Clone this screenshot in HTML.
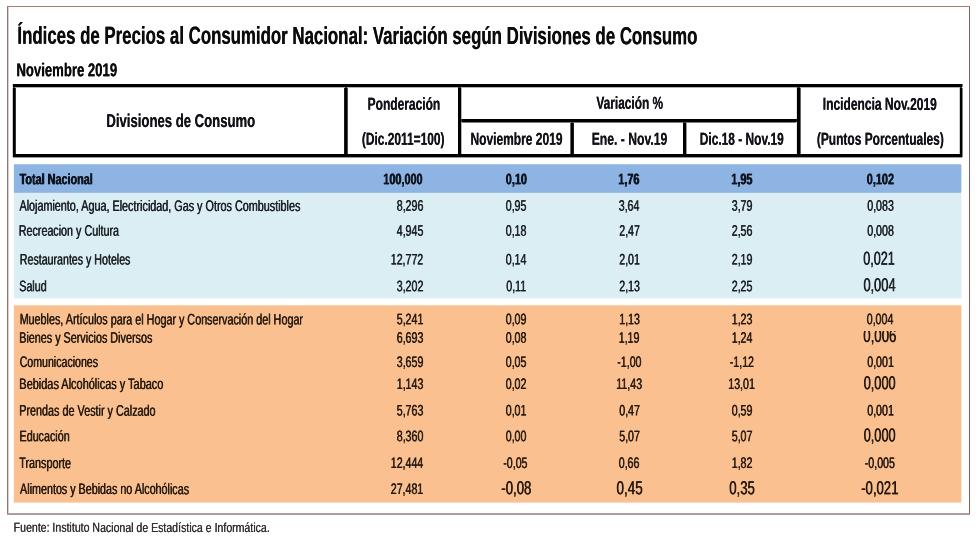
<!DOCTYPE html>
<html lang="es">
<head>
<meta charset="utf-8">
<title>Índices de Precios al Consumidor Nacional</title>
<style>
html,body{margin:0;padding:0;background:#fff;}
body{width:980px;height:546px;position:relative;overflow:hidden;font-family:"Liberation Sans",sans-serif;}
#txt{position:absolute;left:0;top:0;width:980px;height:546px;will-change:transform;}
.t{position:absolute;left:0;top:0;white-space:nowrap;transform-origin:0 0;}
.t::after{content:var(--t);position:absolute;left:var(--d);top:0;white-space:nowrap;}
.r{position:absolute;}
.k{position:absolute;background:#000;}
</style>
</head>
<body>
<div class="r" style="left:14px;top:165px;width:947px;height:27px;background:#8db4e2;"></div>
<div class="r" style="left:14px;top:164px;width:947px;height:1px;background:#8db4e2;opacity:0.80;"></div>
<div class="r" style="left:14px;top:192px;width:947px;height:1px;background:#8db4e2;opacity:0.90;"></div>
<div class="r" style="left:13px;top:165px;width:1px;height:27px;background:#8db4e2;opacity:0.10;"></div>
<div class="r" style="left:961px;top:165px;width:1px;height:27px;background:#8db4e2;opacity:0.40;"></div>
<div class="r" style="left:14px;top:193px;width:947px;height:105px;background:#daeef3;"></div>
<div class="r" style="left:14px;top:192px;width:947px;height:1px;background:#daeef3;opacity:0.10;"></div>
<div class="r" style="left:14px;top:298px;width:947px;height:1px;background:#daeef3;opacity:0.30;"></div>
<div class="r" style="left:13px;top:193px;width:1px;height:105px;background:#daeef3;opacity:0.10;"></div>
<div class="r" style="left:961px;top:193px;width:1px;height:105px;background:#daeef3;opacity:0.40;"></div>
<div class="r" style="left:14px;top:306px;width:947px;height:196px;background:#fac090;"></div>
<div class="r" style="left:14px;top:305px;width:947px;height:1px;background:#fac090;opacity:0.70;"></div>
<div class="r" style="left:14px;top:502px;width:947px;height:1px;background:#fac090;opacity:0.60;"></div>
<div class="r" style="left:13px;top:306px;width:1px;height:196px;background:#fac090;opacity:0.10;"></div>
<div class="r" style="left:961px;top:306px;width:1px;height:196px;background:#fac090;opacity:0.40;"></div>
<div class="r" style="left:13px;top:84px;width:949px;height:3px;background:#000;"></div>
<div class="r" style="left:13px;top:87px;width:949px;height:1px;background:#000;opacity:0.30;"></div>
<div class="r" style="left:12px;top:84px;width:1px;height:3px;background:#000;opacity:0.20;"></div>
<div class="r" style="left:962px;top:84px;width:1px;height:3px;background:#000;opacity:0.50;"></div>
<div class="r" style="left:13px;top:154px;width:949px;height:3px;background:#000;"></div>
<div class="r" style="left:13px;top:157px;width:949px;height:1px;background:#000;opacity:0.40;"></div>
<div class="r" style="left:12px;top:154px;width:1px;height:3px;background:#000;opacity:0.20;"></div>
<div class="r" style="left:962px;top:154px;width:1px;height:3px;background:#000;opacity:0.50;"></div>
<div class="r" style="left:13px;top:88px;width:2px;height:66px;background:#000;"></div>
<div class="r" style="left:13px;top:87px;width:2px;height:1px;background:#000;opacity:0.70;"></div>
<div class="r" style="left:12px;top:88px;width:1px;height:66px;background:#000;opacity:0.20;"></div>
<div class="r" style="left:15px;top:88px;width:1px;height:66px;background:#000;opacity:0.80;"></div>
<div class="r" style="left:960px;top:88px;width:2px;height:66px;background:#000;"></div>
<div class="r" style="left:960px;top:87px;width:2px;height:1px;background:#000;opacity:0.70;"></div>
<div class="r" style="left:959px;top:88px;width:1px;height:66px;background:#000;opacity:0.20;"></div>
<div class="r" style="left:962px;top:88px;width:1px;height:66px;background:#000;opacity:0.50;"></div>
<div class="r" style="left:345px;top:88px;width:2px;height:66px;background:#000;"></div>
<div class="r" style="left:345px;top:87px;width:2px;height:1px;background:#000;opacity:0.70;"></div>
<div class="r" style="left:344px;top:88px;width:1px;height:66px;background:#000;opacity:0.90;"></div>
<div class="r" style="left:347px;top:88px;width:1px;height:66px;background:#000;opacity:0.70;"></div>
<div class="r" style="left:458px;top:88px;width:3px;height:66px;background:#000;"></div>
<div class="r" style="left:458px;top:87px;width:3px;height:1px;background:#000;opacity:0.70;"></div>
<div class="r" style="left:461px;top:88px;width:1px;height:66px;background:#000;opacity:0.30;"></div>
<div class="r" style="left:797px;top:88px;width:3px;height:66px;background:#000;"></div>
<div class="r" style="left:797px;top:87px;width:3px;height:1px;background:#000;opacity:0.70;"></div>
<div class="r" style="left:796px;top:88px;width:1px;height:66px;background:#000;opacity:0.10;"></div>
<div class="r" style="left:800px;top:88px;width:1px;height:66px;background:#000;opacity:0.60;"></div>
<div class="r" style="left:462px;top:119px;width:334px;height:3px;background:#000;"></div>
<div class="r" style="left:462px;top:122px;width:334px;height:1px;background:#000;opacity:0.50;"></div>
<div class="r" style="left:461px;top:119px;width:1px;height:3px;background:#000;opacity:0.70;"></div>
<div class="r" style="left:796px;top:119px;width:1px;height:3px;background:#000;opacity:0.90;"></div>
<div class="r" style="left:571px;top:123px;width:2px;height:31px;background:#000;"></div>
<div class="r" style="left:571px;top:122px;width:2px;height:1px;background:#000;opacity:0.50;"></div>
<div class="r" style="left:570px;top:123px;width:1px;height:31px;background:#000;opacity:0.60;"></div>
<div class="r" style="left:573px;top:123px;width:1px;height:31px;background:#000;opacity:0.90;"></div>
<div class="r" style="left:683px;top:123px;width:3px;height:31px;background:#000;"></div>
<div class="r" style="left:683px;top:122px;width:3px;height:1px;background:#000;opacity:0.50;"></div>
<div class="r" style="left:686px;top:123px;width:1px;height:31px;background:#000;opacity:0.40;"></div>
<div class="r" style="left:7px;top:6px;width:963px;height:1px;background:#b07a76;"></div>
<div class="r" style="left:7px;top:7px;width:1px;height:506px;background:#937674;"></div>
<div class="r" style="left:7px;top:513px;width:1px;height:1px;background:#937674;opacity:0.40;"></div>
<div class="r" style="left:8px;top:7px;width:1px;height:506px;background:#937674;opacity:0.35;"></div>
<div class="r" style="left:969px;top:7px;width:1px;height:506px;background:#875c5a;"></div>
<div class="r" style="left:969px;top:513px;width:1px;height:1px;background:#875c5a;opacity:0.40;"></div>
<div class="r" style="left:7px;top:513px;width:963px;height:1px;background:#7e6060;opacity:0.60;"></div>
<div class="r" style="left:7px;top:514px;width:963px;height:1px;background:#7e6060;opacity:0.65;"></div>
<div id="txt">
<span class="t" style="font-size:24.6px;line-height:27px;color:#0c0c0c;transform:translate(17.30px,21.65px) rotate(0.05deg) scaleX(0.6844);font-weight:bold;--t:'Índices de Precios al Consumidor Nacional: Variación según Divisiones de Consumo';--d:0.365px">Índices de Precios al Consumidor Nacional: Variación según Divisiones de Consumo</span>
<span class="t" style="font-size:18.7px;line-height:21px;color:#0c0c0c;transform:translate(16.35px,59.25px) rotate(0.05deg) scaleX(0.7019);font-weight:bold;--t:'Noviembre 2019';--d:0.427px">Noviembre 2019</span>
<span class="t" style="font-size:18.5px;line-height:21px;color:#12121a;transform:translate(106.35px,109.90px) rotate(0.05deg) scaleX(0.7096);font-weight:bold;--t:'Divisiones de Consumo';--d:0.169px">Divisiones de Consumo</span>
<span class="t" style="font-size:17.3px;line-height:20px;color:#12121a;transform:translate(367.60px,93.80px) rotate(0.05deg) scaleX(0.6935);font-weight:bold;--t:'Ponderación';--d:0.173px">Ponderación</span>
<span class="t" style="font-size:17.3px;line-height:20px;color:#12121a;transform:translate(361.80px,128.70px) rotate(0.05deg) scaleX(0.6907);font-weight:bold;--t:'(Dic.2011=100)';--d:0.174px">(Dic.2011=100)</span>
<span class="t" style="font-size:17.3px;line-height:20px;color:#12121a;transform:translate(596.35px,92.80px) rotate(0.05deg) scaleX(0.6872);font-weight:bold;--t:'Variación %';--d:0.175px">Variación %</span>
<span class="t" style="font-size:17.3px;line-height:20px;color:#12121a;transform:translate(470.40px,128.70px) rotate(0.05deg) scaleX(0.6945);font-weight:bold;--t:'Noviembre 2019';--d:0.173px">Noviembre 2019</span>
<span class="t" style="font-size:17.3px;line-height:20px;color:#12121a;transform:translate(591.65px,128.70px) rotate(0.05deg) scaleX(0.7046);font-weight:bold;--t:'Ene. - Nov.19';--d:0.170px">Ene. - Nov.19</span>
<span class="t" style="font-size:17.3px;line-height:20px;color:#12121a;transform:translate(699.75px,128.70px) rotate(0.05deg) scaleX(0.6904);font-weight:bold;--t:'Dic.18 - Nov.19';--d:0.174px">Dic.18 - Nov.19</span>
<span class="t" style="font-size:17.3px;line-height:20px;color:#12121a;transform:translate(822.75px,93.80px) rotate(0.05deg) scaleX(0.6957);font-weight:bold;--t:'Incidencia Nov.2019';--d:0.172px">Incidencia Nov.2019</span>
<span class="t" style="font-size:17.3px;line-height:20px;color:#12121a;transform:translate(816.80px,128.70px) rotate(0.05deg) scaleX(0.6923);font-weight:bold;--t:'(Puntos Porcentuales)';--d:0.173px">(Puntos Porcentuales)</span>
<span class="t" style="font-size:15.3px;line-height:17px;color:#0e1420;transform:translate(19.30px,170.20px) rotate(0.05deg) scaleX(0.7072);font-weight:bold;--t:'Total Nacional';--d:0.848px">Total Nacional</span>
<span class="t" style="font-size:15.3px;line-height:17px;color:#0e1420;transform:translate(383.00px,170.20px) rotate(0.05deg) scaleX(0.7110);font-weight:bold;--t:'100,000';--d:0.844px">100,000</span>
<span class="t" style="font-size:15.3px;line-height:17px;color:#0e1420;transform:translate(505.50px,170.20px) rotate(0.05deg) scaleX(0.7110);font-weight:bold;--t:'0,10';--d:0.844px">0,10</span>
<span class="t" style="font-size:15.3px;line-height:17px;color:#0e1420;transform:translate(618.00px,170.20px) rotate(0.05deg) scaleX(0.7110);font-weight:bold;--t:'1,76';--d:0.844px">1,76</span>
<span class="t" style="font-size:15.3px;line-height:17px;color:#0e1420;transform:translate(731.00px,170.20px) rotate(0.05deg) scaleX(0.7110);font-weight:bold;--t:'1,95';--d:0.844px">1,95</span>
<span class="t" style="font-size:15.3px;line-height:17px;color:#0e1420;transform:translate(866.50px,170.20px) rotate(0.05deg) scaleX(0.7110);font-weight:bold;--t:'0,102';--d:0.844px">0,102</span>
<span class="t" style="font-size:15.3px;line-height:17px;color:#1a1e22;transform:translate(19.20px,196.80px) rotate(0.05deg) scaleX(0.7060);--t:'Alojamiento, Agua, Electricidad, Gas y Otros Combustibles';--d:0.708px">Alojamiento, Agua, Electricidad, Gas y Otros Combustibles</span>
<span class="t" style="font-size:15.3px;line-height:17px;color:#1a1e22;transform:translate(396.50px,196.80px) rotate(0.05deg) scaleX(0.6950);--t:'8,296';--d:0.719px">8,296</span>
<span class="t" style="font-size:15.3px;line-height:17px;color:#1a1e22;transform:translate(505.50px,196.80px) rotate(0.05deg) scaleX(0.6950);--t:'0,95';--d:0.719px">0,95</span>
<span class="t" style="font-size:15.3px;line-height:17px;color:#1a1e22;transform:translate(618.50px,196.80px) rotate(0.05deg) scaleX(0.6950);--t:'3,64';--d:0.719px">3,64</span>
<span class="t" style="font-size:15.3px;line-height:17px;color:#1a1e22;transform:translate(731.50px,196.80px) rotate(0.05deg) scaleX(0.6950);--t:'3,79';--d:0.719px">3,79</span>
<span class="t" style="font-size:15.3px;line-height:17px;color:#1a1e22;transform:translate(867.00px,196.80px) rotate(0.05deg) scaleX(0.6950);--t:'0,083';--d:0.719px">0,083</span>
<span class="t" style="font-size:15.3px;line-height:17px;color:#1a1e22;transform:translate(18.50px,221.70px) rotate(0.05deg) scaleX(0.7021);--t:'Recreacion y Cultura';--d:0.712px">Recreacion y Cultura</span>
<span class="t" style="font-size:15.3px;line-height:17px;color:#1a1e22;transform:translate(396.50px,221.70px) rotate(0.05deg) scaleX(0.6950);--t:'4,945';--d:0.719px">4,945</span>
<span class="t" style="font-size:15.3px;line-height:17px;color:#1a1e22;transform:translate(505.50px,221.70px) rotate(0.05deg) scaleX(0.6950);--t:'0,18';--d:0.719px">0,18</span>
<span class="t" style="font-size:15.3px;line-height:17px;color:#1a1e22;transform:translate(619.00px,221.70px) rotate(0.05deg) scaleX(0.6950);--t:'2,47';--d:0.719px">2,47</span>
<span class="t" style="font-size:15.3px;line-height:17px;color:#1a1e22;transform:translate(731.50px,221.70px) rotate(0.05deg) scaleX(0.6950);--t:'2,56';--d:0.719px">2,56</span>
<span class="t" style="font-size:15.3px;line-height:17px;color:#1a1e22;transform:translate(867.00px,221.70px) rotate(0.05deg) scaleX(0.6950);--t:'0,008';--d:0.719px">0,008</span>
<span class="t" style="font-size:15.3px;line-height:17px;color:#1a1e22;transform:translate(19.55px,250.40px) rotate(0.05deg) scaleX(0.6958);--t:'Restaurantes y Hoteles';--d:0.719px">Restaurantes y Hoteles</span>
<span class="t" style="font-size:15.3px;line-height:17px;color:#1a1e22;transform:translate(390.50px,250.40px) rotate(0.05deg) scaleX(0.6950);--t:'12,772';--d:0.719px">12,772</span>
<span class="t" style="font-size:15.3px;line-height:17px;color:#1a1e22;transform:translate(505.50px,250.40px) rotate(0.05deg) scaleX(0.6950);--t:'0,14';--d:0.719px">0,14</span>
<span class="t" style="font-size:15.3px;line-height:17px;color:#1a1e22;transform:translate(619.00px,250.40px) rotate(0.05deg) scaleX(0.6950);--t:'2,01';--d:0.719px">2,01</span>
<span class="t" style="font-size:15.3px;line-height:17px;color:#1a1e22;transform:translate(731.50px,250.40px) rotate(0.05deg) scaleX(0.6950);--t:'2,19';--d:0.719px">2,19</span>
<span class="t" style="font-size:15.3px;line-height:17px;color:#1a1e22;transform:translate(19.05px,277.30px) rotate(0.05deg) scaleX(0.6979);--t:'Salud';--d:0.716px">Salud</span>
<span class="t" style="font-size:15.3px;line-height:17px;color:#1a1e22;transform:translate(396.50px,277.30px) rotate(0.05deg) scaleX(0.6950);--t:'3,202';--d:0.719px">3,202</span>
<span class="t" style="font-size:15.3px;line-height:17px;color:#1a1e22;transform:translate(506.00px,277.30px) rotate(0.05deg) scaleX(0.6950);--t:'0,11';--d:0.719px">0,11</span>
<span class="t" style="font-size:15.3px;line-height:17px;color:#1a1e22;transform:translate(619.00px,277.30px) rotate(0.05deg) scaleX(0.6950);--t:'2,13';--d:0.719px">2,13</span>
<span class="t" style="font-size:15.3px;line-height:17px;color:#1a1e22;transform:translate(731.50px,277.30px) rotate(0.05deg) scaleX(0.6950);--t:'2,25';--d:0.719px">2,25</span>
<span class="t" style="font-size:15.3px;line-height:17px;color:#24180f;transform:translate(19.40px,310.30px) rotate(0.05deg) scaleX(0.7045);--t:'Muebles, Artículos para el Hogar y Conservación del Hogar';--d:0.710px">Muebles, Artículos para el Hogar y Conservación del Hogar</span>
<span class="t" style="font-size:15.3px;line-height:17px;color:#24180f;transform:translate(396.50px,310.30px) rotate(0.05deg) scaleX(0.6950);--t:'5,241';--d:0.719px">5,241</span>
<span class="t" style="font-size:15.3px;line-height:17px;color:#24180f;transform:translate(505.50px,310.30px) rotate(0.05deg) scaleX(0.6950);--t:'0,09';--d:0.719px">0,09</span>
<span class="t" style="font-size:15.3px;line-height:17px;color:#24180f;transform:translate(619.00px,310.30px) rotate(0.05deg) scaleX(0.6950);--t:'1,13';--d:0.719px">1,13</span>
<span class="t" style="font-size:15.3px;line-height:17px;color:#24180f;transform:translate(731.50px,310.30px) rotate(0.05deg) scaleX(0.6950);--t:'1,23';--d:0.719px">1,23</span>
<span class="t" style="font-size:15.3px;line-height:17px;color:#24180f;transform:translate(866.50px,310.30px) rotate(0.05deg) scaleX(0.6950);--t:'0,004';--d:0.719px">0,004</span>
<span class="t" style="font-size:15.3px;line-height:17px;color:#24180f;transform:translate(18.95px,328.70px) rotate(0.05deg) scaleX(0.7052);--t:'Bienes y Servicios Diversos';--d:0.709px">Bienes y Servicios Diversos</span>
<span class="t" style="font-size:15.3px;line-height:17px;color:#24180f;transform:translate(396.50px,328.70px) rotate(0.05deg) scaleX(0.6950);--t:'6,693';--d:0.719px">6,693</span>
<span class="t" style="font-size:15.3px;line-height:17px;color:#24180f;transform:translate(505.50px,328.70px) rotate(0.05deg) scaleX(0.6950);--t:'0,08';--d:0.719px">0,08</span>
<span class="t" style="font-size:15.3px;line-height:17px;color:#24180f;transform:translate(618.50px,328.70px) rotate(0.05deg) scaleX(0.6950);--t:'1,19';--d:0.719px">1,19</span>
<span class="t" style="font-size:15.3px;line-height:17px;color:#24180f;transform:translate(731.50px,328.70px) rotate(0.05deg) scaleX(0.6950);--t:'1,24';--d:0.719px">1,24</span>
<span class="t" style="font-size:15.3px;line-height:17px;color:#24180f;transform:translate(19.40px,352.90px) rotate(0.05deg) scaleX(0.6933);--t:'Comunicaciones';--d:0.721px">Comunicaciones</span>
<span class="t" style="font-size:15.3px;line-height:17px;color:#24180f;transform:translate(396.50px,352.90px) rotate(0.05deg) scaleX(0.6950);--t:'3,659';--d:0.719px">3,659</span>
<span class="t" style="font-size:15.3px;line-height:17px;color:#24180f;transform:translate(505.50px,352.90px) rotate(0.05deg) scaleX(0.6950);--t:'0,05';--d:0.719px">0,05</span>
<span class="t" style="font-size:15.3px;line-height:17px;color:#24180f;transform:translate(617.00px,352.90px) rotate(0.05deg) scaleX(0.6950);--t:'-1,00';--d:0.719px">-1,00</span>
<span class="t" style="font-size:15.3px;line-height:17px;color:#24180f;transform:translate(729.50px,352.90px) rotate(0.05deg) scaleX(0.6950);--t:'-1,12';--d:0.719px">-1,12</span>
<span class="t" style="font-size:15.3px;line-height:17px;color:#24180f;transform:translate(867.00px,352.90px) rotate(0.05deg) scaleX(0.6950);--t:'0,001';--d:0.719px">0,001</span>
<span class="t" style="font-size:15.3px;line-height:17px;color:#24180f;transform:translate(19.10px,374.90px) rotate(0.05deg) scaleX(0.7160);--t:'Bebidas Alcohólicas y Tabaco';--d:0.698px">Bebidas Alcohólicas y Tabaco</span>
<span class="t" style="font-size:15.3px;line-height:17px;color:#24180f;transform:translate(396.50px,374.90px) rotate(0.05deg) scaleX(0.6950);--t:'1,143';--d:0.719px">1,143</span>
<span class="t" style="font-size:15.3px;line-height:17px;color:#24180f;transform:translate(505.50px,374.90px) rotate(0.05deg) scaleX(0.6950);--t:'0,02';--d:0.719px">0,02</span>
<span class="t" style="font-size:15.3px;line-height:17px;color:#24180f;transform:translate(616.00px,374.90px) rotate(0.05deg) scaleX(0.6950);--t:'11,43';--d:0.719px">11,43</span>
<span class="t" style="font-size:15.3px;line-height:17px;color:#24180f;transform:translate(728.00px,374.90px) rotate(0.05deg) scaleX(0.6950);--t:'13,01';--d:0.719px">13,01</span>
<span class="t" style="font-size:15.3px;line-height:17px;color:#24180f;transform:translate(19.05px,401.60px) rotate(0.05deg) scaleX(0.7060);--t:'Prendas de Vestir y Calzado';--d:0.708px">Prendas de Vestir y Calzado</span>
<span class="t" style="font-size:15.3px;line-height:17px;color:#24180f;transform:translate(396.50px,401.60px) rotate(0.05deg) scaleX(0.6950);--t:'5,763';--d:0.719px">5,763</span>
<span class="t" style="font-size:15.3px;line-height:17px;color:#24180f;transform:translate(505.50px,401.60px) rotate(0.05deg) scaleX(0.6950);--t:'0,01';--d:0.719px">0,01</span>
<span class="t" style="font-size:15.3px;line-height:17px;color:#24180f;transform:translate(619.00px,401.60px) rotate(0.05deg) scaleX(0.6950);--t:'0,47';--d:0.719px">0,47</span>
<span class="t" style="font-size:15.3px;line-height:17px;color:#24180f;transform:translate(731.50px,401.60px) rotate(0.05deg) scaleX(0.6950);--t:'0,59';--d:0.719px">0,59</span>
<span class="t" style="font-size:15.3px;line-height:17px;color:#24180f;transform:translate(867.00px,401.60px) rotate(0.05deg) scaleX(0.6950);--t:'0,001';--d:0.719px">0,001</span>
<span class="t" style="font-size:15.3px;line-height:17px;color:#24180f;transform:translate(19.25px,427.30px) rotate(0.05deg) scaleX(0.7025);--t:'Educación';--d:0.712px">Educación</span>
<span class="t" style="font-size:15.3px;line-height:17px;color:#24180f;transform:translate(396.50px,427.30px) rotate(0.05deg) scaleX(0.6950);--t:'8,360';--d:0.719px">8,360</span>
<span class="t" style="font-size:15.3px;line-height:17px;color:#24180f;transform:translate(505.50px,427.30px) rotate(0.05deg) scaleX(0.6950);--t:'0,00';--d:0.719px">0,00</span>
<span class="t" style="font-size:15.3px;line-height:17px;color:#24180f;transform:translate(619.00px,427.30px) rotate(0.05deg) scaleX(0.6950);--t:'5,07';--d:0.719px">5,07</span>
<span class="t" style="font-size:15.3px;line-height:17px;color:#24180f;transform:translate(731.50px,427.30px) rotate(0.05deg) scaleX(0.6950);--t:'5,07';--d:0.719px">5,07</span>
<span class="t" style="font-size:15.3px;line-height:17px;color:#24180f;transform:translate(18.95px,454.10px) rotate(0.05deg) scaleX(0.7076);--t:'Transporte';--d:0.707px">Transporte</span>
<span class="t" style="font-size:15.3px;line-height:17px;color:#24180f;transform:translate(390.50px,454.10px) rotate(0.05deg) scaleX(0.6950);--t:'12,444';--d:0.719px">12,444</span>
<span class="t" style="font-size:15.3px;line-height:17px;color:#24180f;transform:translate(503.00px,454.10px) rotate(0.05deg) scaleX(0.6950);--t:'-0,05';--d:0.719px">-0,05</span>
<span class="t" style="font-size:15.3px;line-height:17px;color:#24180f;transform:translate(618.50px,454.10px) rotate(0.05deg) scaleX(0.6950);--t:'0,66';--d:0.719px">0,66</span>
<span class="t" style="font-size:15.3px;line-height:17px;color:#24180f;transform:translate(731.50px,454.10px) rotate(0.05deg) scaleX(0.6950);--t:'1,82';--d:0.719px">1,82</span>
<span class="t" style="font-size:15.3px;line-height:17px;color:#24180f;transform:translate(864.50px,454.10px) rotate(0.05deg) scaleX(0.6950);--t:'-0,005';--d:0.719px">-0,005</span>
<span class="t" style="font-size:15.3px;line-height:17px;color:#24180f;transform:translate(19.85px,480.00px) rotate(0.05deg) scaleX(0.7021);--t:'Alimentos y Bebidas no Alcohólicas';--d:0.712px">Alimentos y Bebidas no Alcohólicas</span>
<span class="t" style="font-size:15.3px;line-height:17px;color:#24180f;transform:translate(390.50px,480.00px) rotate(0.05deg) scaleX(0.6950);--t:'27,481';--d:0.719px">27,481</span>
<span class="t" style="font-size:18.9px;line-height:21px;color:#1a1e22;transform:translate(862.90px,247.70px) rotate(0.05deg) scaleX(0.6691);--t:'0,021';--d:0.747px">0,021</span>
<span class="t" style="font-size:18.9px;line-height:21px;color:#1a1e22;transform:translate(863.15px,274.20px) rotate(0.05deg) scaleX(0.6803);--t:'0,004';--d:0.735px">0,004</span>
<span class="t" style="font-size:18.9px;line-height:21px;color:#24180f;transform:translate(863.10px,325.00px) rotate(0.05deg) scaleX(0.6995);clip-path:inset(6.00px -2px 0 0);--t:'0,006';--d:0.715px">0,006</span>
<span class="t" style="font-size:18.9px;line-height:21px;color:#24180f;transform:translate(863.50px,372.30px) rotate(0.05deg) scaleX(0.6746);--t:'0,000';--d:0.741px">0,000</span>
<span class="t" style="font-size:18.9px;line-height:21px;color:#24180f;transform:translate(863.50px,424.60px) rotate(0.05deg) scaleX(0.6746);--t:'0,000';--d:0.741px">0,000</span>
<span class="t" style="font-size:18.9px;line-height:21px;color:#24180f;transform:translate(501.05px,477.20px) rotate(0.05deg) scaleX(0.6976);--t:'-0,08';--d:0.717px">-0,08</span>
<span class="t" style="font-size:18.9px;line-height:21px;color:#24180f;transform:translate(616.30px,477.20px) rotate(0.05deg) scaleX(0.7118);--t:'0,45';--d:0.702px">0,45</span>
<span class="t" style="font-size:18.9px;line-height:21px;color:#24180f;transform:translate(729.05px,477.20px) rotate(0.05deg) scaleX(0.6982);--t:'0,35';--d:0.716px">0,35</span>
<span class="t" style="font-size:18.9px;line-height:21px;color:#24180f;transform:translate(861.00px,477.20px) rotate(0.05deg) scaleX(0.6955);--t:'-0,021';--d:0.719px">-0,021</span>
<span class="t" style="font-size:13.1px;line-height:15px;color:#303030;transform:translate(13.60px,519.80px) rotate(0.05deg) scaleX(0.8067);--t:'Fuente: Instituto Nacional de Estadística e Informática.';--d:0.310px">Fuente: Instituto Nacional de Estadística e Informática.</span>
</div>
</body>
</html>
